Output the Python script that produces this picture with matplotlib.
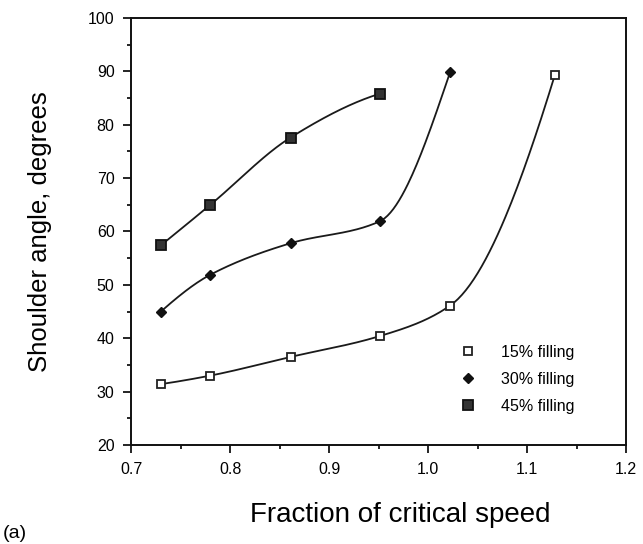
import numpy as np
import matplotlib
matplotlib.use("Agg")
import matplotlib.pyplot as plt
from matplotlib.ticker import MultipleLocator

plt.rcParams['font.family'] = ['Liberation Sans', 'DejaVu Sans']

# data
speed_15 = [0.73, 0.78, 0.861, 0.951, 1.022, 1.128]
angle_15 = [31.4, 33.0, 36.5, 40.4, 46.1, 89.4]
speed_30 = [0.73, 0.78, 0.861, 0.951, 1.022]
angle_30 = [45.0, 51.9, 57.8, 61.9, 89.8]
speed_45 = [0.73, 0.78, 0.861, 0.951]
angle_45 = [57.4, 65.0, 77.6, 85.8]
labels = ["15% filling", "30% filling", "45% filling"]


def end_slope(h0, h1, d0, d1):
    m = ((2 * h0 + h1) * d0 - h0 * d1) / (h0 + h1)
    if np.sign(m) != np.sign(d0):
        return 0.0
    if np.sign(d0) != np.sign(d1) and abs(m) > 3 * abs(d0):
        return 3 * d0
    return m


def pchip(x, y, n=200):
    # monotone cubic interpolation, only used to draw the smooth line
    x = np.asarray(x, float)
    y = np.asarray(y, float)
    h = np.diff(x)
    d = np.diff(y) / h
    m = np.zeros_like(y)
    for k in range(1, len(x) - 1):
        if d[k - 1] * d[k] > 0:
            w1 = 2 * h[k] + h[k - 1]
            w2 = h[k] + 2 * h[k - 1]
            m[k] = (w1 + w2) / (w1 / d[k - 1] + w2 / d[k])
    m[0] = end_slope(h[0], h[1], d[0], d[1])
    m[-1] = end_slope(h[-1], h[-2], d[-1], d[-2])
    xs = np.linspace(x[0], x[-1], n)
    idx = np.clip(np.searchsorted(x, xs) - 1, 0, len(x) - 2)
    t = (xs - x[idx]) / h[idx]
    h00 = 2 * t**3 - 3 * t**2 + 1
    h10 = t**3 - 2 * t**2 + t
    h01 = -2 * t**3 + 3 * t**2
    h11 = t**3 - t**2
    ys = h00 * y[idx] + h10 * h[idx] * m[idx] + h01 * y[idx + 1] + h11 * h[idx] * m[idx + 1]
    return xs, ys


fig = plt.figure(figsize=(6.43, 5.44), dpi=100)
ax = fig.add_axes([0.204, 0.182, 0.770, 0.785])

series = [
    (speed_15, angle_15, dict(marker='s', ms=6, mfc='white', mec='#222222', mew=1.3)),
    (speed_30, angle_30, dict(marker='D', ms=5, mfc='#111111', mec='#111111', mew=1)),
    (speed_45, angle_45, dict(marker='s', ms=6.5, mfc='#333333', mec='#111111', mew=1.3)),
]
for (xs, ys, mk), lab in zip(series, labels):
    cx, cy = pchip(xs, ys)
    ax.plot(cx, cy, color='#1a1a1a', lw=1.3, zorder=2)
    ax.plot(xs, ys, ls='none', label=lab, zorder=3, **mk)

ax.set_xlim(0.7, 1.2)
ax.set_ylim(20, 100)
ax.xaxis.set_major_locator(MultipleLocator(0.1))
ax.xaxis.set_minor_locator(MultipleLocator(0.05))
ax.yaxis.set_major_locator(MultipleLocator(10))
ax.yaxis.set_minor_locator(MultipleLocator(5))
ax.set_xticklabels([f"{v:.1f}" for v in ax.get_xticks()])
ax.tick_params(which='major', direction='out', length=6, width=1.2, labelsize=11.5, pad=6)
ax.tick_params(which='minor', direction='out', length=3, width=1.2)
ax.tick_params(top=False, right=False)
for s in ax.spines.values():
    s.set_linewidth(1.4)
    s.set_color('#111111')

ax.set_xlabel("Fraction of critical speed", fontsize=20)
ax.xaxis.set_label_coords(0.543, -0.164)
ax.xaxis.label.set_va('center')
ax.set_ylabel("Shoulder angle, degrees", fontsize=18.5, labelpad=26)

ax.legend(loc='lower right', bbox_to_anchor=(0.925, 0.04), frameon=False,
          fontsize=11.5, handletextpad=1.1, labelspacing=0.75)

fig.text(0.005, 0.003, "(a)", fontsize=14, va='bottom')

fig.savefig("out.png", dpi=100)
